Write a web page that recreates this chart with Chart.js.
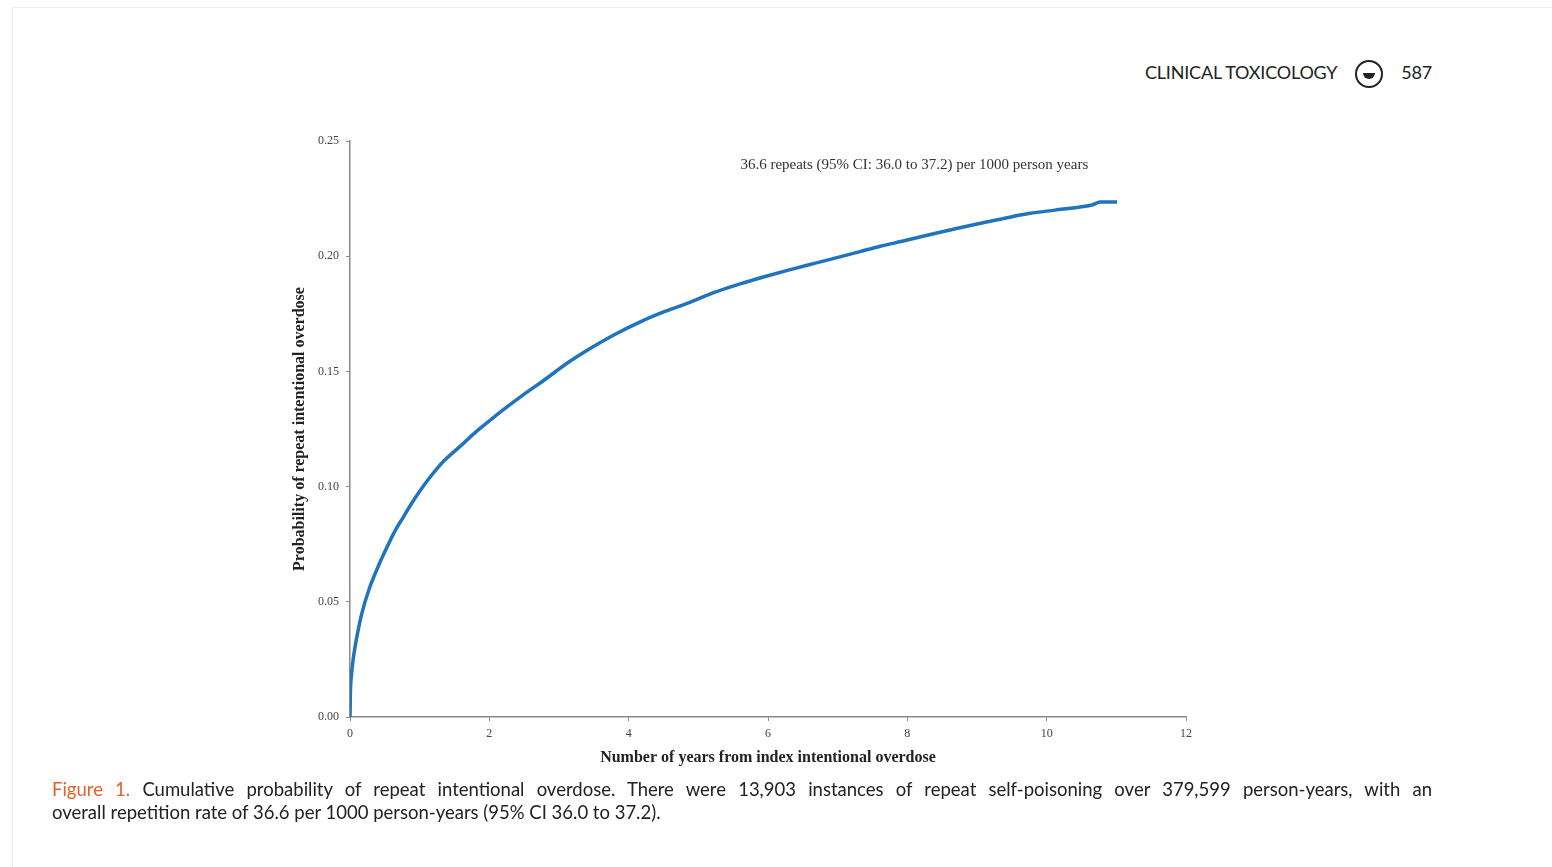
<!DOCTYPE html>
<html>
<head>
<meta charset="utf-8">
<script src="https://cdn.jsdelivr.net/npm/chart.js@4"></script>
<style>
  html, body { margin: 0; padding: 0; background: #fff; }
  body { width: 1552px; height: 867px; position: relative; overflow: hidden; font-family: Lato, "Open Sans", sans-serif; }
  .frame { position: absolute; left: 12px; top: 7px; right: -2px; bottom: -2px; border: 1px solid #ececec; }
  .header { position: absolute; top: 60px; left: 1145px; font-size: 18px; color: #222; letter-spacing: -0.2px; }
  .header .logo { display: inline-block; width: 28px; height: 28px; border: 2px solid #222; border-radius: 50%; vertical-align: middle; margin: 0 18px 0 18px; position: relative; box-sizing: border-box; }
  .header .logo::after { content: ''; position: absolute; left: 6px; top: 11px; width: 12px; height: 6px; background: #222; border-radius: 0 0 6px 6px; }
  #wrap { position: absolute; left: 270px; top: 120px; width: 960px; height: 660px; }
  .caption { position: absolute; left: 52px; top: 778px; width: 1380px; font-size: 18.5px; line-height: 23px; color: #222; }
  .caption .l1 { text-align: justify; text-align-last: justify; }
  .caption .fig { color: #e2612a; }
</style>
</head>
<body>
<div class="frame"></div>
<div class="header">CLINICAL TOXICOLOGY<span class="logo"></span>587</div>
<div id="wrap"><canvas id="chart"></canvas></div>
<div class="caption">
  <div class="l1"><span class="fig">Figure 1.</span> Cumulative probability of repeat intentional overdose. There were 13,903 instances of repeat self-poisoning over 379,599 person-years, with an</div>
  <div>overall repetition rate of 36.6 per 1000 person-years (95% CI 36.0 to 37.2).</div>
</div>
<script>
// Cumulative probability curve
const years = [0, 0.005, 0.02, 0.05, 0.1, 0.17, 0.28, 0.4, 0.52, 0.65, 0.77, 0.89, 1.0, 1.12, 1.24, 1.36, 1.6, 1.84, 2.08, 2.33, 2.55, 2.76, 3.1, 3.44, 3.8, 4.16, 4.52, 4.88, 5.24, 5.6, 5.96, 6.32, 6.68, 7.03, 7.32, 7.61, 7.97, 8.33, 8.69, 9.04, 9.4, 9.76, 10.12, 10.48, 10.65, 10.77, 11.01];
const probability = [0, 0.01, 0.018, 0.026, 0.035, 0.045, 0.056, 0.065, 0.073, 0.081, 0.087, 0.093, 0.098, 0.103, 0.1075, 0.1115, 0.118, 0.1246, 0.1305, 0.1363, 0.1412, 0.1456, 0.1532, 0.1598, 0.166, 0.1714, 0.176, 0.180, 0.1844, 0.188, 0.1912, 0.1942, 0.197, 0.1997, 0.202, 0.2043, 0.2068, 0.2094, 0.2119, 0.2142, 0.2165, 0.2186, 0.22, 0.2214, 0.2222, 0.2235, 0.2235];
const xTicks = [0, 2, 4, 6, 8, 10, 12];
const yTicks = [0, 0.05, 0.10, 0.15, 0.20, 0.25];
const rateNote = '36.6 repeats (95% CI: 36.0 to 37.2) per 1000 person years';

const points = years.map((x, i) => ({ x: x, y: probability[i] }));
const serif = '"Liberation Serif", "Times New Roman", serif';

// annotation text above the curve
const notePlugin = {
    id: 'note',
    afterDraw(chart) {
        const c = chart.ctx;
        const xs = chart.scales.x, ys = chart.scales.y;
        c.save();
        c.font = '15px ' + serif;
        c.fillStyle = '#333';
        c.textAlign = 'center';
        c.textBaseline = 'middle';
        c.fillText(rateNote, xs.getPixelForValue(8.1), ys.getPixelForValue(0.2395));
        c.restore();
    }
};

new Chart(document.getElementById('chart'), {
    type: 'line',
    data: {
        datasets: [{
            data: points,
            borderColor: '#1f74bd',
            borderWidth: 3.5,
            pointRadius: 0,
            cubicInterpolationMode: 'monotone',
            fill: false
        }]
    },
    options: {
        responsive: true,
        maintainAspectRatio: false,
        animation: false,
        layout: { padding: { left: 20, top: 21, right: 44, bottom: 13 } },
        plugins: { legend: { display: false }, tooltip: { enabled: false } },
        scales: {
            x: {
                type: 'linear',
                min: 0,
                max: 12,
                afterBuildTicks: (s) => { s.ticks = xTicks.map(v => ({ value: v })); },
                afterFit: (s) => { s.height = 50; },
                border: { display: true, color: '#8a8a8a', width: 1.5 },
                grid: { drawOnChartArea: false, drawTicks: true, tickLength: 4, color: '#8a8a8a' },
                ticks: { color: '#444', font: { family: serif, size: 12 }, padding: 6, maxRotation: 0 },
                title: { display: true, text: 'Number of years from index intentional overdose', color: '#222', font: { family: serif, size: 16, weight: 'bold' }, padding: { top: 0, bottom: 0 } }
            },
            y: {
                min: 0,
                max: 0.25,
                afterBuildTicks: (s) => { s.ticks = yTicks.map(v => ({ value: v })); },
                afterFit: (s) => { s.width = 60; },
                border: { display: true, color: '#8a8a8a', width: 1.5 },
                grid: { drawOnChartArea: false, drawTicks: true, tickLength: 4, color: '#8a8a8a' },
                ticks: { color: '#444', font: { family: serif, size: 12 }, padding: 7, callback: (v) => v.toFixed(2) },
                title: { display: true, text: 'Probability of repeat intentional overdose', color: '#222', font: { family: serif, size: 16, weight: 'bold' }, padding: { top: 0, bottom: 0 } }
            }
        }
    },
    plugins: [notePlugin]
});
</script>
</body>
</html>
